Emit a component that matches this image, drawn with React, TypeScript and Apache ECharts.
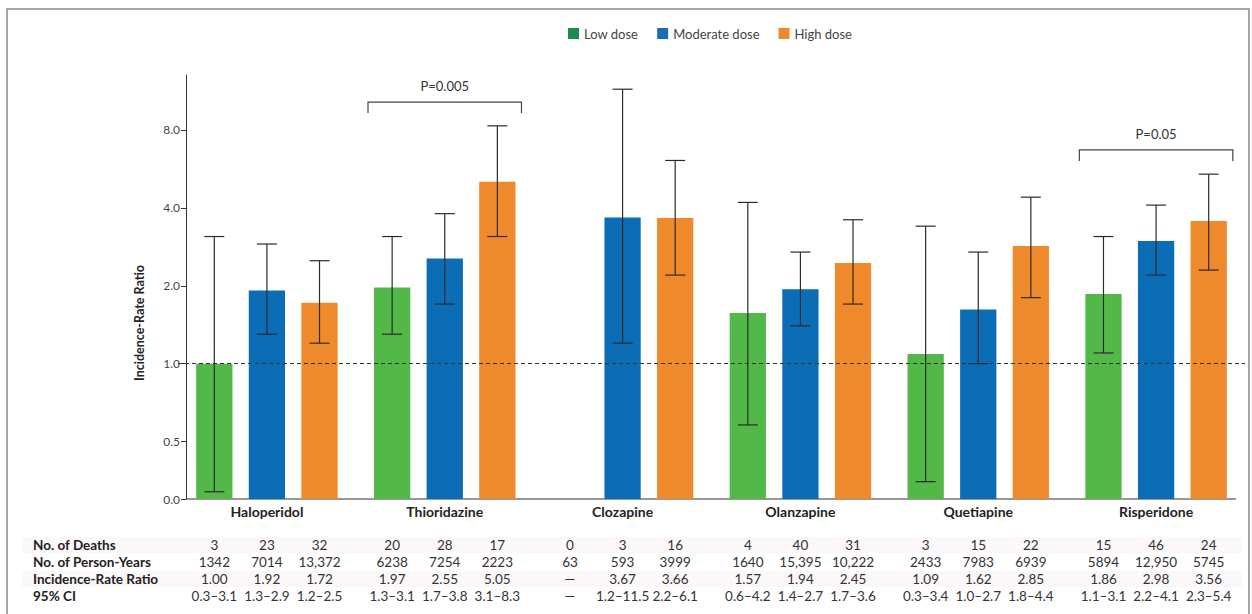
import React, { useEffect, useRef } from 'react';
import * as echarts from 'echarts';

const drugs = ['Haloperidol', 'Thioridazine', 'Clozapine', 'Olanzapine', 'Quetiapine', 'Risperidone'];
const doseNames = ['Low dose', 'Moderate dose', 'High dose'];
const barColors = ['#52b848', '#0b6db5', '#ef8a2c'];
const legendColors = ['#1d8a4e', '#1a6fb4', '#ec8b2e'];

const lowIRR = [1.0, 1.97, null, 1.57, 1.09, 1.86];
const modIRR = [1.92, 2.55, 3.67, 1.94, 1.62, 2.98];
const highIRR = [1.72, 5.05, 3.66, 2.45, 2.85, 3.56];

const lowCI = [[0.32, 3.1], [1.3, 3.1], null, [0.58, 4.2], [0.35, 3.4], [1.1, 3.1]];
const modCI = [[1.3, 2.9], [1.7, 3.8], [1.2, 11.5], [1.4, 2.7], [1.0, 2.7], [2.2, 4.1]];
const highCI = [[1.2, 2.5], [3.1, 8.3], [2.2, 6.1], [1.7, 3.6], [1.8, 4.4], [2.3, 5.4]];

const yTicks = [0.3, 0.5, 1, 2, 4, 8];
const yMin = 0.3;
const yMax = 13.05;

const pBrackets = [
  { cat: 1, y: 10.26, label: 'P=0.005' },
  { cat: 5, y: 6.7, label: 'P=0.05' },
];

const tableRowLabels = ['No. of Deaths', 'No. of Person-Years', 'Incidence-Rate Ratio', '95% CI'];
const deaths = [['3', '23', '32'], ['20', '28', '17'], ['0', '3', '16'], ['4', '40', '31'], ['3', '15', '22'], ['15', '46', '24']];
const personYears = [['1342', '7014', '13,372'], ['6238', '7254', '2223'], ['63', '593', '3999'], ['1640', '15,395', '10,222'], ['2433', '7983', '6939'], ['5894', '12,950', '5745']];
const irrText = [['1.00', '1.92', '1.72'], ['1.97', '2.55', '5.05'], ['—', '3.67', '3.66'], ['1.57', '1.94', '2.45'], ['1.09', '1.62', '2.85'], ['1.86', '2.98', '3.56']];
const ciText = [['0.3–3.1', '1.3–2.9', '1.2–2.5'], ['1.3–3.1', '1.7–3.8', '3.1–8.3'], ['—', '1.2–11.5', '2.2–6.1'], ['0.6–4.2', '1.4–2.7', '1.7–3.6'], ['0.3–3.4', '1.0–2.7', '1.8–4.4'], ['1.1–3.1', '2.2–4.1', '2.3–5.4']];

const FONT = 'Lato, "Open Sans", sans-serif';
const BAR_FRAC = 0.204;
const BAR_GAP = 0.45;
const STEP = BAR_FRAC * (1 + BAR_GAP);
const CAP = 10;

export default function App() {
  const ref = useRef<HTMLDivElement>(null);
  useEffect(() => {
    if (!ref.current) return;
    const chart = echarts.init(ref.current, null, { renderer: 'svg' });

    const whisker = (j: number) => (params: any, api: any) => {
      const cat = api.value(0);
      const lo = api.value(1);
      const hi = api.value(2);
      const band = api.coord([1, 1])[0] - api.coord([0, 1])[0];
      const x = api.coord([cat, 1])[0] + (j - 1) * band * STEP;
      const y1 = api.coord([cat, lo])[1];
      const y2 = api.coord([cat, hi])[1];
      const st = { stroke: '#2b2b2b', lineWidth: 1.2 };
      return {
        type: 'group',
        children: [
          { type: 'line', shape: { x1: x, y1, x2: x, y2 }, style: st },
          { type: 'line', shape: { x1: x - CAP, y1, x2: x + CAP, y2: y1 }, style: st },
          { type: 'line', shape: { x1: x - CAP, y1: y2, x2: x + CAP, y2 }, style: st },
        ],
      };
    };

    const ciSets = [lowCI, modCI, highCI];
    const irrSets = [lowIRR, modIRR, highIRR];

    const barSeries = doseNames.map((name, j) => ({
      name,
      type: 'bar',
      data: irrSets[j],
      barWidth: (BAR_FRAC * 100).toFixed(1) + '%',
      barGap: (BAR_GAP * 100) + '%',
      itemStyle: { color: barColors[j] },
      z: 2,
      markLine: j === 0 ? {
        silent: true,
        symbol: 'none',
        label: { show: false },
        lineStyle: { type: [4, 3], color: '#333', width: 1 },
        data: [{ yAxis: 1 }],
        z: 3,
      } : undefined,
    }));

    const ciSeries = doseNames.map((name, j) => ({
      name: 'ci-' + j,
      type: 'custom',
      renderItem: whisker(j),
      encode: { x: 0, y: [1, 2] },
      data: ciSets[j].map((c, i) => (c ? [i, c[0], c[1]] : null)).filter((d) => d !== null),
      z: 5,
      silent: true,
    }));

    const bracketSeries = {
      name: 'p-values',
      type: 'custom',
      silent: true,
      z: 5,
      encode: { x: 0, y: 1 },
      data: pBrackets.map((b) => [b.cat, b.y]),
      renderItem: (params: any, api: any) => {
        const cat = api.value(0);
        const band = api.coord([1, 1])[0] - api.coord([0, 1])[0];
        const cx = api.coord([cat, 1])[0];
        const y = api.coord([cat, api.value(1)])[1];
        const half = band * STEP + (band * BAR_FRAC) / 2 + 6;
        return {
          type: 'group',
          children: [
            {
              type: 'polyline',
              shape: { points: [[cx - half, y + 11], [cx - half, y], [cx + half, y], [cx + half, y + 11]] },
              style: { stroke: '#444', lineWidth: 1.2, fill: 'none' },
            },
            {
              type: 'text',
              x: cx,
              y: y - 16,
              style: {
                text: pBrackets[params.dataIndex].label,
                fill: '#333',
                font: `13px ${FONT}`,
                textAlign: 'center',
                textVerticalAlign: 'middle',
              },
            },
          ],
        };
      },
    };

    chart.setOption({
      animation: false,
      textStyle: { fontFamily: FONT },
      legend: {
        data: doseNames.map((n, j) => ({ name: n, itemStyle: { color: legendColors[j] } })),
        left: 563,
        top: 22,
        icon: 'rect',
        itemWidth: 11,
        itemHeight: 11,
        itemGap: 19,
        textStyle: { fontSize: 13, color: '#444', fontFamily: FONT },
        selectedMode: false,
      },
      grid: { left: 178, right: 7, top: 75, bottom: 115, containLabel: false },
      xAxis: {
        type: 'category',
        data: drugs,
        axisLine: { show: false },
        axisTick: { show: false },
        axisLabel: { fontSize: 14, fontWeight: 'bold', color: '#222', margin: 5, fontFamily: FONT },
      },
      yAxis: {
        type: 'log',
        logBase: 2,
        min: yMin,
        max: yMax,
        startValue: yMin,
        offset: -8,
        axisLine: { show: true, lineStyle: { color: '#333', width: 1 } },
        axisTick: { show: true, length: 5, customValues: yTicks, lineStyle: { color: '#333' } },
        splitLine: { show: false },
        axisLabel: {
          customValues: yTicks,
          fontSize: 12,
          color: '#444',
          margin: 6,
          fontFamily: FONT,
          formatter: (v: number) => (v < 0.4 ? '0.0' : v.toFixed(1)),
        },
      },
      series: [...barSeries, ...ciSeries, bracketSeries],
    });

    const centers = drugs.map((_, i) => chart.convertToPixel({ xAxisIndex: 0 }, i) as number);
    const band = centers[1] - centers[0];
    const yBottom = chart.convertToPixel({ yAxisIndex: 0 }, yMin) as number;
    const rowY = [545, 562, 579, 596];
    const rows = [deaths, personYears, irrText, ciText];
    const graphics: any[] = [
      { type: 'rect', shape: { x: 7, y: 9, width: 1242, height: 620 }, style: { fill: 'none', stroke: '#8a8a8a', lineWidth: 1.5 }, silent: true },
      { type: 'rect', shape: { x: 22, y: rowY[0] - 8, width: 1220, height: 16 }, style: { fill: '#fcf7f9' }, silent: true, z: -1 },
      { type: 'rect', shape: { x: 22, y: rowY[2] - 8, width: 1220, height: 16 }, style: { fill: '#fcf7f9' }, silent: true, z: -1 },
      { type: 'line', shape: { x1: 186, y1: yBottom, x2: 1236, y2: yBottom }, style: { stroke: '#333', lineWidth: 1 }, silent: true },
      {
        type: 'text', x: 139, y: 323, rotation: Math.PI / 2,
        style: { text: 'Incidence-Rate Ratio', font: `bold 12.5px ${FONT}`, fill: '#222', textAlign: 'center', textVerticalAlign: 'middle' },
      },
    ];
    tableRowLabels.forEach((lab, r) => {
      graphics.push({
        type: 'text', x: 33, y: rowY[r],
        style: { text: lab, font: `bold 13.5px ${FONT}`, fill: '#222', textAlign: 'left', textVerticalAlign: 'middle' },
      });
      rows[r].forEach((vals, i) => {
        vals.forEach((t, j) => {
          graphics.push({
            type: 'text', x: centers[i] + (j - 1) * band * STEP, y: rowY[r],
            style: { text: t, font: `13.5px ${FONT}`, fill: '#333', textAlign: 'center', textVerticalAlign: 'middle' },
          });
        });
      });
    });
    chart.setOption({ graphic: graphics });

    return () => chart.dispose();
  }, []);
  return <div ref={ref} style={{ position: 'fixed', left: 0, top: 0, width: 1252, height: 614, background: '#fff' }} />;
}
